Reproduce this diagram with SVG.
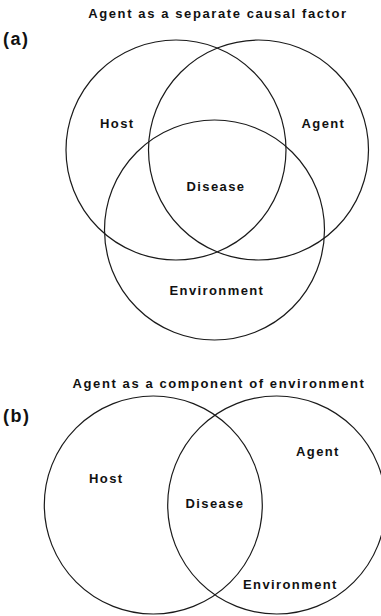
<svg xmlns="http://www.w3.org/2000/svg" width="381" height="616" viewBox="0 0 381 616">
<style>
.c{fill:none;stroke:#1a1a1a;stroke-width:1.2}
.t{font-family:"Liberation Sans",Arial,sans-serif;font-weight:bold;font-size:13px;letter-spacing:1.4px;fill:#111}
.h{font-family:"Liberation Sans",Arial,sans-serif;font-weight:bold;font-size:13px;letter-spacing:1.6px;fill:#111;text-anchor:middle}
.p{font-family:"Liberation Sans",Arial,sans-serif;font-weight:bold;font-size:18px;letter-spacing:1.5px;fill:#111}
</style>
<rect width="381" height="616" fill="#fff"/>
<g id="panel-a">
<text class="h" x="218" y="18">Agent as a separate causal factor</text>
<text class="p" x="3" y="45">(a)</text>
<g id="a-host"><circle class="c" cx="176" cy="150" r="110"/><text class="t" x="100" y="128">Host</text></g>
<g id="a-agent"><circle class="c" cx="258.5" cy="150" r="110"/><text class="t" x="301.5" y="128">Agent</text></g>
<g id="a-env"><circle class="c" cx="214.5" cy="230" r="110"/><text class="t" x="169.5" y="295">Environment</text></g>
<g id="a-disease"><text class="t" x="186.5" y="191">Disease</text></g>
</g>
<g id="panel-b">
<text class="h" x="219" y="388">Agent as a component of environment</text>
<text class="p" x="3" y="422">(b)</text>
<g id="b-host"><circle class="c" cx="153.3" cy="505" r="109"/><text class="t" x="89" y="483">Host</text></g>
<g id="b-env"><circle class="c" cx="276.7" cy="505" r="109"/><text class="t" x="296" y="456">Agent</text><text class="t" x="243" y="588.5">Environment</text></g>
<g id="b-disease"><text class="t" x="185.5" y="507.5">Disease</text></g>
</g>
<g id="connectors"/>
</svg>
